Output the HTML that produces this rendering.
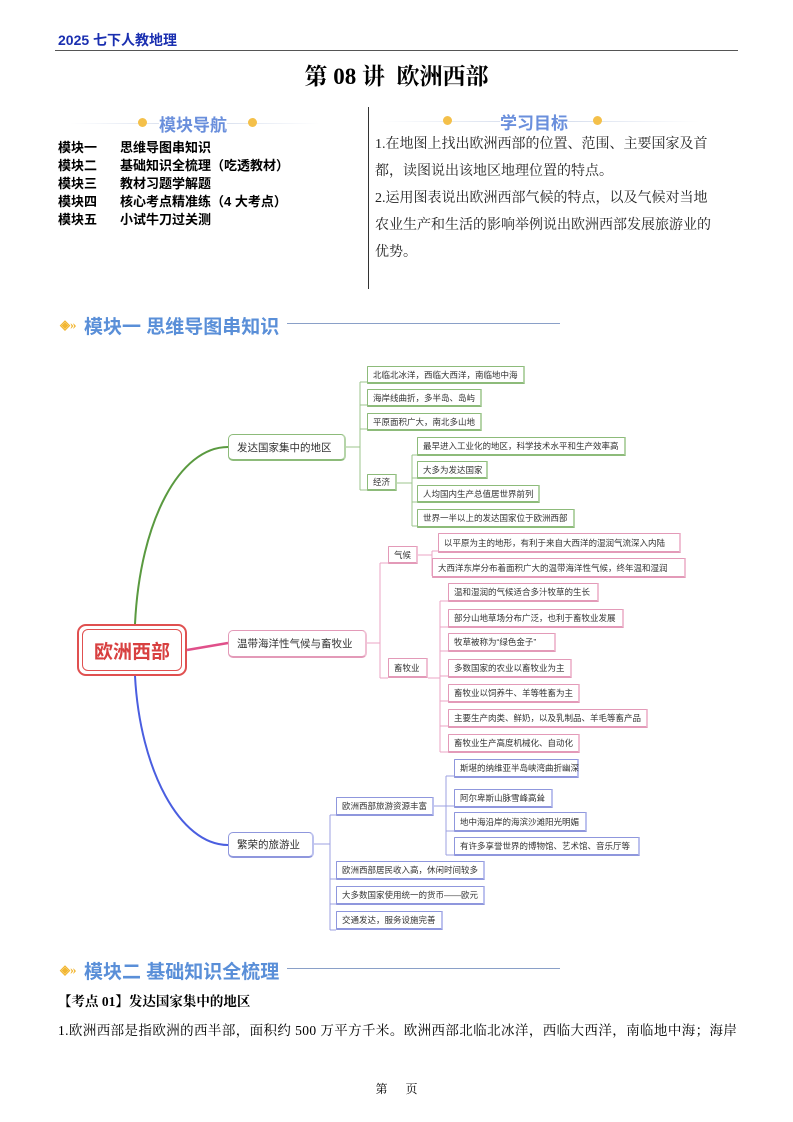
<!DOCTYPE html>
<html><head><meta charset="utf-8"><style>
*{margin:0;padding:0;box-sizing:border-box}
body{width:793px;height:1122px;position:relative;background:#fff;font-family:"Liberation Serif","Noto Serif CJK SC",serif;color:#000;overflow:hidden}
.a{position:absolute;white-space:nowrap}
.sans{font-family:"Liberation Sans","Noto Sans CJK SC",sans-serif}
.b{position:absolute;font-family:"Liberation Sans","Noto Sans CJK SC",sans-serif;font-size:8.5px;color:#333;padding-left:5px;display:flex;align-items:center;white-space:nowrap;background:#fff;border-radius:1px}
.g{border:1px solid #8dbb7a;border-bottom:2px solid #8dbb7a;border-right:2px solid #b5d4a8}
.p{border:1px solid #e39ab8;border-bottom:2px solid #e39ab8;border-right:2px solid #f0c0d4}
.u{border:1px solid #8f97dd;border-bottom:2px solid #8f97dd;border-right:2px solid #bcc1ee}
.m{font-size:10.5px;border-radius:5px;padding-left:8px}
.hd{color:#5a8fd8;font-weight:bold;font-size:19px;font-family:"Liberation Sans","Noto Sans CJK SC",sans-serif}
</style></head><body>
<div class="a sans" style="left:58px;top:30px;font-size:14px;font-weight:bold;color:#1a2fb0">2025 七下人教地理</div>
<div class="a" style="left:55px;top:50px;width:683px;height:1px;background:#555"></div>
<div class="a" style="left:0;width:793px;text-align:center;top:58px;font-size:23px;font-weight:bold">第 08 讲&nbsp; 欧洲西部</div>

<div class="a" style="left:70px;top:123px;width:250px;height:1px;background:linear-gradient(90deg,#fff,#cfd8ea,#fff)"></div>
<div class="a" style="left:138px;top:118px;width:9px;height:9px;border-radius:50%;background:#f4c04a"></div>
<div class="a" style="left:248px;top:118px;width:9px;height:9px;border-radius:50%;background:#f4c04a"></div>
<div class="a hd" style="left:159px;top:111px;font-size:17px;color:#6a8fdc;background:#fff">模块导航</div>

<div class="a sans" style="left:58px;top:139px;font-size:13px;font-weight:bold;line-height:18px">模块一<br>模块二<br>模块三<br>模块四<br>模块五</div>
<div class="a sans" style="left:120px;top:139px;font-size:13px;font-weight:bold;line-height:18px">思维导图串知识<br>基础知识全梳理（吃透教材）<br>教材习题学解题<br>核心考点精准练（4 大考点）<br>小试牛刀过关测</div>

<div class="a" style="left:368px;top:107px;width:1px;height:182px;background:#333"></div>

<div class="a" style="left:380px;top:121px;width:320px;height:1px;background:linear-gradient(90deg,#fff,#cfd8ea,#fff)"></div>
<div class="a" style="left:443px;top:116px;width:9px;height:9px;border-radius:50%;background:#f4c04a"></div>
<div class="a" style="left:593px;top:116px;width:9px;height:9px;border-radius:50%;background:#f4c04a"></div>
<div class="a hd" style="left:500px;top:109px;font-size:17px;color:#6a8fdc;background:#fff">学习目标</div>
<div class="a" style="left:375px;top:131px;font-size:14px;line-height:27px;white-space:normal;width:338px;color:#222">1.在地图上找出欧洲西部的位置、范围、主要国家及首都，读图说出该地区地理位置的特点。<br>2.运用图表说出欧洲西部气候的特点，以及气候对当地农业生产和生活的影响举例说出欧洲西部发展旅游业的优势。</div>

<div class="a" style="left:60px;top:317px;color:#f2b630;font-size:13px;font-weight:bold">◈»</div>
<div class="a hd" style="left:84px;top:312px">模块一 思维导图串知识</div>
<div class="a" style="left:287px;top:323px;width:273px;height:1px;background:#8aa0c8"></div>

<svg class="a" style="left:0;top:0" width="793" height="1122">
<g fill="none" stroke-width="1">
<path d="M135 624 C140 520 180 447 228 447" stroke="#5a9a40" stroke-width="2"/>
<path d="M187 650 L228 643" stroke="#e0508a" stroke-width="2.5"/>
<path d="M135 676 C140 770 180 845 228 845" stroke="#4a5ee0" stroke-width="2"/>
<g stroke="#9cc48c"><path d="M346 447 H360 M360 382 V490 M360 382 H367 M360 405 H367 M360 429 H367 M360 490 H367 M396 483 H412 M412 455 V526 M412 455 H417 M412 478 H417 M412 502 H417 M412 526 H417"/></g>
<g stroke="#eba6c4"><path d="M367 643 H380 M380 563 V678 M380 563 H388 M380 678 H388 M418 555 H432 M432 551 V576 M432 551 H438 M432 576 H438 M428 678 H440 M440 601 V752 M440 601 H448 M440 627 H448 M440 651 H448 M440 676 H448 M440 701 H448 M440 726 H448 M440 752 H448"/></g>
<g stroke="#9ca2e2"><path d="M314 844 H330 M330 815 V930 M330 815 H336 M330 879 H336 M330 904 H336 M330 930 H336 M434 806 H446 M446 776 V855 M446 776 H454 M446 806 H454 M446 831 H454 M446 855 H454"/></g>
</g></svg>

<div class="a sans" style="left:77px;top:624px;width:110px;height:52px;border:2.5px solid #e05050;border-radius:9px;padding:3px;background:#fff"><div style="width:100%;height:100%;border:1.5px solid #e05050;border-radius:6px;color:#d84040;font-size:19px;font-weight:bold;display:flex;align-items:center;justify-content:center">欧洲西部</div></div>

<div class="b g m" style="left:228px;top:434px;width:118px;height:27px">发达国家集中的地区</div>
<div class="b g" style="left:367px;top:366px;width:158px;height:18px">北临北冰洋，西临大西洋，南临地中海</div>
<div class="b g" style="left:367px;top:389px;width:115px;height:18px">海岸线曲折，多半岛、岛屿</div>
<div class="b g" style="left:367px;top:413px;width:115px;height:18px">平原面积广大，南北多山地</div>
<div class="b g" style="left:367px;top:474px;width:30px;height:17px">经济</div>
<div class="b g" style="left:417px;top:437px;width:209px;height:19px">最早进入工业化的地区，科学技术水平和生产效率高</div>
<div class="b g" style="left:417px;top:461px;width:71px;height:18px">大多为发达国家</div>
<div class="b g" style="left:417px;top:485px;width:123px;height:18px">人均国内生产总值居世界前列</div>
<div class="b g" style="left:417px;top:509px;width:158px;height:19px">世界一半以上的发达国家位于欧洲西部</div>

<div class="b p m" style="left:228px;top:630px;width:139px;height:28px">温带海洋性气候与畜牧业</div>
<div class="b p" style="left:388px;top:546px;width:30px;height:18px">气候</div>
<div class="b p" style="left:388px;top:658px;width:40px;height:20px">畜牧业</div>
<div class="b p" style="left:438px;top:533px;width:243px;height:20px">以平原为主的地形，有利于来自大西洋的湿润气流深入内陆</div>
<div class="b p" style="left:432px;top:558px;width:254px;height:20px">大西洋东岸分布着面积广大的温带海洋性气候，终年温和湿润</div>
<div class="b p" style="left:448px;top:583px;width:151px;height:19px">温和湿润的气候适合多汁牧草的生长</div>
<div class="b p" style="left:448px;top:609px;width:176px;height:19px">部分山地草场分布广泛，也利于畜牧业发展</div>
<div class="b p" style="left:448px;top:633px;width:108px;height:19px">牧草被称为“绿色金子”</div>
<div class="b p" style="left:448px;top:659px;width:124px;height:19px">多数国家的农业以畜牧业为主</div>
<div class="b p" style="left:448px;top:684px;width:132px;height:19px">畜牧业以饲养牛、羊等牲畜为主</div>
<div class="b p" style="left:448px;top:709px;width:200px;height:19px">主要生产肉类、鲜奶，以及乳制品、羊毛等畜产品</div>
<div class="b p" style="left:448px;top:734px;width:132px;height:19px">畜牧业生产高度机械化、自动化</div>

<div class="b u m" style="left:228px;top:832px;width:86px;height:26px">繁荣的旅游业</div>
<div class="b u" style="left:336px;top:797px;width:98px;height:19px">欧洲西部旅游资源丰富</div>
<div class="b u" style="left:454px;top:759px;width:125px;height:19px">斯堪的纳维亚半岛峡湾曲折幽深</div>
<div class="b u" style="left:454px;top:789px;width:99px;height:19px">阿尔卑斯山脉雪峰高耸</div>
<div class="b u" style="left:454px;top:812px;width:133px;height:20px">地中海沿岸的海滨沙滩阳光明媚</div>
<div class="b u" style="left:454px;top:837px;width:186px;height:19px">有许多享誉世界的博物馆、艺术馆、音乐厅等</div>
<div class="b u" style="left:336px;top:861px;width:149px;height:19px">欧洲西部居民收入高，休闲时间较多</div>
<div class="b u" style="left:336px;top:886px;width:149px;height:19px">大多数国家使用统一的货币——欧元</div>
<div class="b u" style="left:336px;top:911px;width:107px;height:19px">交通发达，服务设施完善</div>

<div class="a" style="left:60px;top:962px;color:#f2b630;font-size:13px;font-weight:bold">◈»</div>
<div class="a hd" style="left:84px;top:957px">模块二 基础知识全梳理</div>
<div class="a" style="left:287px;top:968px;width:273px;height:1px;background:#8aa0c8"></div>

<div class="a" style="left:58px;top:990px;font-size:13.5px;font-weight:bold">【考点 01】发达国家集中的地区</div>
<div class="a" style="left:58px;top:1019px;font-size:13.5px;letter-spacing:0.4px">1.欧洲西部是指欧洲的西半部，面积约 500 万平方千米。欧洲西部北临北冰洋，西临大西洋，南临地中海；海岸</div>
<div class="a" style="left:0;width:793px;text-align:center;top:1080px;font-size:12px">第&nbsp;&nbsp;&nbsp;&nbsp;&nbsp;&nbsp;页</div>
</body></html>
